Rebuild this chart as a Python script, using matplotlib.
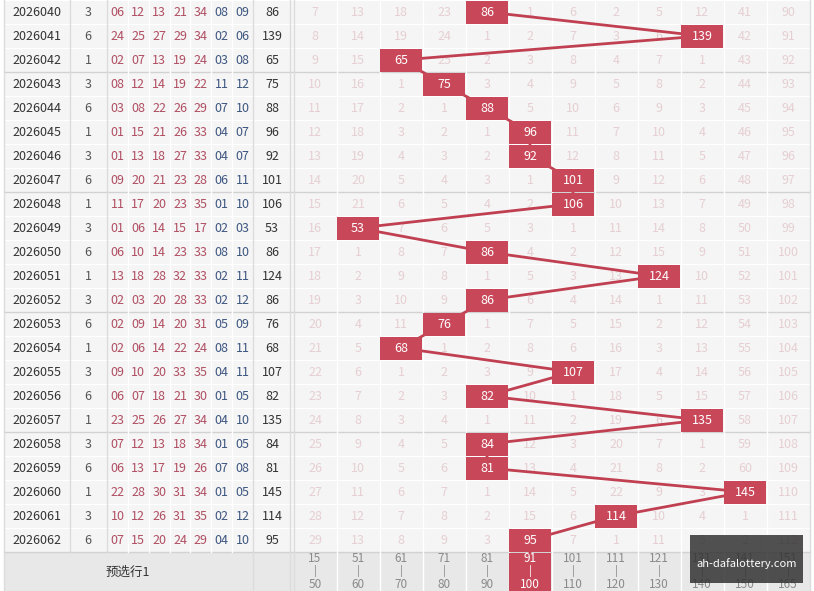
import matplotlib.pyplot as plt
from matplotlib.patches import Rectangle

plt.rcParams['font.family'] = ['Noto Sans CJK SC', 'DejaVu Sans']

periods = ['2026040', '2026041', '2026042', '2026043', '2026044', '2026045',
           '2026046', '2026047', '2026048', '2026049', '2026050', '2026051',
           '2026052', '2026053', '2026054', '2026055', '2026056', '2026057',
           '2026058', '2026059', '2026060', '2026061', '2026062']
tags = [3, 6, 1, 3, 6, 1, 3, 6, 1, 3, 6, 1, 3, 6, 1, 3, 6, 1, 3, 6, 1, 3, 6]
red_balls = [
    ['06', '12', '13', '21', '34'], ['24', '25', '27', '29', '34'],
    ['02', '07', '13', '19', '24'], ['08', '12', '14', '19', '22'],
    ['03', '08', '22', '26', '29'], ['01', '15', '21', '26', '33'],
    ['01', '13', '18', '27', '33'], ['09', '20', '21', '23', '28'],
    ['11', '17', '20', '23', '35'], ['01', '06', '14', '15', '17'],
    ['06', '10', '14', '23', '33'], ['13', '18', '28', '32', '33'],
    ['02', '03', '20', '28', '33'], ['02', '09', '14', '20', '31'],
    ['02', '06', '14', '22', '24'], ['09', '10', '20', '33', '35'],
    ['06', '07', '18', '21', '30'], ['23', '25', '26', '27', '34'],
    ['07', '12', '13', '18', '34'], ['06', '13', '17', '19', '26'],
    ['22', '28', '30', '31', '34'], ['10', '12', '26', '31', '35'],
    ['07', '15', '20', '24', '29']]
blue_balls = [
    ['08', '09'], ['02', '06'], ['03', '08'], ['11', '12'], ['07', '10'],
    ['04', '07'], ['04', '07'], ['06', '11'], ['01', '10'], ['02', '03'],
    ['08', '10'], ['02', '11'], ['02', '12'], ['05', '09'], ['08', '11'],
    ['04', '11'], ['01', '05'], ['04', '10'], ['01', '05'], ['07', '08'],
    ['01', '05'], ['02', '12'], ['04', '10']]
sums = [86, 139, 65, 75, 88, 96, 92, 101, 106, 53, 86, 124, 86, 76, 68,
        107, 82, 135, 84, 81, 145, 114, 95]
bins_low = [15, 51, 61, 71, 81, 91, 101, 111, 121, 131, 141, 151]
bins_high = [50, 60, 70, 80, 90, 100, 110, 120, 130, 140, 150, 165]
# omission counts per row; 0 marks the bin that was hit
misses = [
    [7, 13, 18, 23, 0, 1, 6, 2, 5, 12, 41, 90],
    [8, 14, 19, 24, 1, 2, 7, 3, 6, 0, 42, 91],
    [9, 15, 0, 25, 2, 3, 8, 4, 7, 1, 43, 92],
    [10, 16, 1, 0, 3, 4, 9, 5, 8, 2, 44, 93],
    [11, 17, 2, 1, 0, 5, 10, 6, 9, 3, 45, 94],
    [12, 18, 3, 2, 1, 0, 11, 7, 10, 4, 46, 95],
    [13, 19, 4, 3, 2, 0, 12, 8, 11, 5, 47, 96],
    [14, 20, 5, 4, 3, 1, 0, 9, 12, 6, 48, 97],
    [15, 21, 6, 5, 4, 2, 0, 10, 13, 7, 49, 98],
    [16, 0, 7, 6, 5, 3, 1, 11, 14, 8, 50, 99],
    [17, 1, 8, 7, 0, 4, 2, 12, 15, 9, 51, 100],
    [18, 2, 9, 8, 1, 5, 3, 13, 0, 10, 52, 101],
    [19, 3, 10, 9, 0, 6, 4, 14, 1, 11, 53, 102],
    [20, 4, 11, 0, 1, 7, 5, 15, 2, 12, 54, 103],
    [21, 5, 0, 1, 2, 8, 6, 16, 3, 13, 55, 104],
    [22, 6, 1, 2, 3, 9, 0, 17, 4, 14, 56, 105],
    [23, 7, 2, 3, 0, 10, 1, 18, 5, 15, 57, 106],
    [24, 8, 3, 4, 1, 11, 2, 19, 6, 0, 58, 107],
    [25, 9, 4, 5, 0, 12, 3, 20, 7, 1, 59, 108],
    [26, 10, 5, 6, 0, 13, 4, 21, 8, 2, 60, 109],
    [27, 11, 6, 7, 1, 14, 5, 22, 9, 3, 0, 110],
    [28, 12, 7, 8, 2, 15, 6, 0, 10, 4, 1, 111],
    [29, 13, 8, 9, 3, 0, 7, 1, 11, 5, 2, 112]]
preselect_label = '预选行1'
preselect_bin = 5

RED = '#c8485a'
ROW_H = 24
GX0, GW = 293.5, 43
FS = 9

fig = plt.figure(figsize=(8.14, 5.91), dpi=100)
ax = fig.add_axes([0, 0, 1, 1])
ax.set_xlim(0, 814)
ax.set_ylim(591, 0)
ax.axis('off')

n = len(periods)
table_bottom = n * ROW_H
ax.add_patch(Rectangle((4, 0), 806, table_bottom, fc='#f5f5f5', ec='none', zorder=0))
ax.add_patch(Rectangle((4, table_bottom), 806, 60, fc='#e8e8e8', ec='none', zorder=0))

# grid lines
for i in range(n + 1):
    y = i * ROW_H
    col = '#d2d2d2' if i % 5 == 3 or i == n else 'white'
    ax.plot([4, 810], [y, y], color=col, lw=1, zorder=1)
for x in [70, 107]:
    ax.plot([x, x], [0, table_bottom], color='#dcdcdc', lw=1, zorder=1)
for x in [253, 290]:
    ax.plot([x, x], [0, 591], color='#dcdcdc', lw=1, zorder=1)
for k in range(1, 7):
    x = 107 + k * 146 / 7
    ax.plot([x, x], [0, table_bottom], color='white', lw=1, zorder=1)
for k in range(13):
    x = GX0 + k * GW
    ax.plot([x, x], [0, 591], color='white' if 0 < k < 12 else '#dcdcdc', lw=1, zorder=1)
ax.plot([4, 4], [0, 591], color='#dcdcdc', lw=1, zorder=1)

centers = []
for i in range(n):
    yc = i * ROW_H + ROW_H / 2
    ax.text(37, yc, periods[i], ha='center', va='center', fontsize=FS, color='#333333')
    ax.text(88, yc, str(tags[i]), ha='center', va='center', fontsize=FS, color='#555555')
    balls = red_balls[i] + blue_balls[i]
    for k, b in enumerate(balls):
        x = 107 + (k + 0.5) * 146 / 7
        ax.text(x, yc, b, ha='center', va='center', fontsize=FS,
                color='#b04e62' if k < 5 else '#3d5680')
    ax.text(272, yc, str(sums[i]), ha='center', va='center', fontsize=FS, color='#333333')
    for j, m in enumerate(misses[i]):
        xc = GX0 + (j + 0.5) * GW
        if m == 0:
            ax.add_patch(Rectangle((xc - 21, yc - 11.5), 42, 23, fc=RED, ec='none', zorder=4))
            ax.text(xc, yc, str(sums[i]), ha='center', va='center', fontsize=FS,
                    color='white', zorder=5)
            centers.append((xc, yc))
        else:
            ax.text(xc, yc, str(m), ha='center', va='center', fontsize=FS,
                    color='#e6cfd3', zorder=2)

# bottom preselection row
yb = table_bottom + 20
ax.text(128, yb, preselect_label, ha='center', va='center', fontsize=FS, color='#333333')
for j in range(len(bins_low)):
    xc = GX0 + (j + 0.5) * GW
    tc = '#8a8a8a'
    if j == preselect_bin:
        ax.add_patch(Rectangle((xc - 21, table_bottom + 1), 42, 45, fc=RED, ec='none', zorder=4))
        tc = 'white'
        centers.append((xc, yb))
    ax.text(xc, table_bottom + 7, str(bins_low[j]), ha='center', va='center',
            fontsize=FS - 0.5, color=tc, zorder=5)
    ax.text(xc, table_bottom + 19, '|', ha='center', va='center',
            fontsize=FS - 1, color=tc, zorder=5)
    ax.text(xc, table_bottom + 32, str(bins_high[j]), ha='center', va='center',
            fontsize=FS - 0.5, color=tc, zorder=5)

ax.plot([c[0] for c in centers], [c[1] for c in centers], color='#c04052', lw=2, zorder=3)

# watermark
ax.add_patch(Rectangle((690, 535), 113, 48, fc='#333333', ec='none', alpha=0.85, zorder=6))
ax.text(746.5, 564, 'ah-dafalottery.com', ha='center', va='center', fontsize=8,
        color='white', zorder=7)

fig.savefig('out.png', dpi=100)
